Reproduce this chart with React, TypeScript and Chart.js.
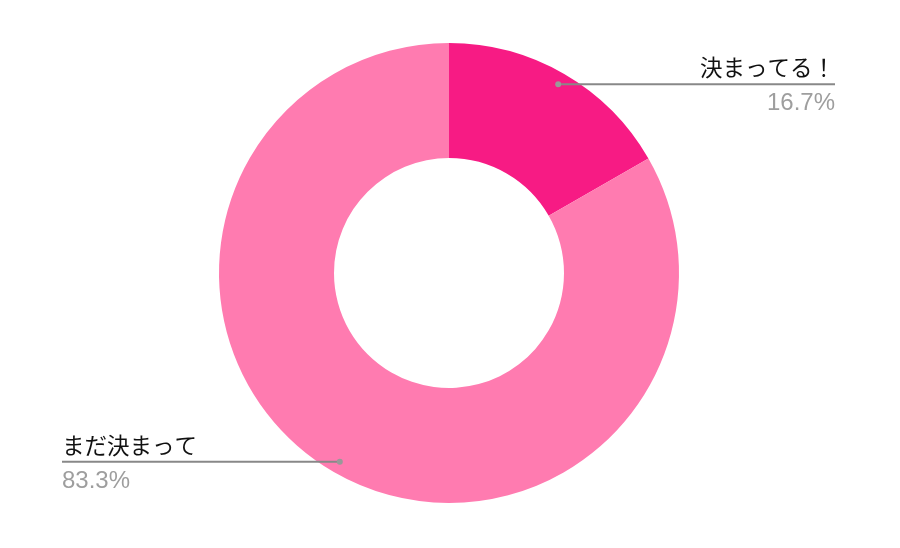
import React, { useEffect, useRef } from "react";
import { Chart, registerables } from "chart.js";

Chart.register(...registerables);

const categories: string[] = ["決まってる！", "まだ決まって"];
const values: number[] = [16.7, 83.3];
const colors: string[] = ["#F71B84", "#FF7BB0"];

const calloutPlugin = {
  id: "callouts",
  afterDraw(chart: any) {
    const ctx = chart.ctx;
    const meta = chart.getDatasetMeta(0);
    meta.data.forEach((arc: any, i: number) => {
      const p = arc.getProps(["x", "y", "startAngle", "endAngle", "outerRadius"], true);
      const mid = (p.startAngle + p.endAngle) / 2;
      const r = p.outerRadius - 12;
      const px = p.x + Math.cos(mid) * r;
      const py = p.y + Math.sin(mid) * r;
      const right = Math.cos(mid) >= 0;
      const ex = right ? p.x + 386 : p.x - 387;
      ctx.save();
      ctx.strokeStyle = "#888888";
      ctx.lineWidth = 2;
      ctx.beginPath();
      ctx.moveTo(px, py);
      ctx.lineTo(ex, py);
      ctx.stroke();
      ctx.fillStyle = "#999999";
      ctx.beginPath();
      ctx.arc(px, py, 3, 0, Math.PI * 2);
      ctx.fill();
      ctx.textAlign = right ? "right" : "left";
      ctx.textBaseline = "alphabetic";
      ctx.fillStyle = "#111111";
      ctx.font = "22.5px 'Noto Sans CJK JP', sans-serif";
      ctx.fillText(categories[i], ex, py - 8);
      ctx.fillStyle = "#9e9e9e";
      ctx.font = "24px 'Liberation Sans', Arial, sans-serif";
      ctx.fillText(values[i].toFixed(1) + "%", ex, py + 26);
      ctx.restore();
    });
  },
};

export default function App() {
  const ref = useRef<HTMLCanvasElement>(null);
  useEffect(() => {
    if (!ref.current) return;
    const chart = new Chart(ref.current, {
      type: "doughnut",
      data: {
        labels: categories,
        datasets: [
          {
            data: values,
            backgroundColor: colors,
            borderWidth: 0,
            hoverOffset: 0,
          },
        ],
      },
      options: {
        responsive: false,
        animation: false,
        cutout: "50%",
        layout: { padding: { top: 43, bottom: 45, left: 0, right: 2 } },
        plugins: {
          legend: { display: false },
          tooltip: { enabled: false },
        },
      },
      plugins: [calloutPlugin],
    });
    return () => chart.destroy();
  }, []);
  return (
    <div style={{ position: "fixed", left: 0, top: 0, width: 900, height: 548, background: "#fff" }}>
      <canvas ref={ref} width={900} height={548} />
    </div>
  );
}
